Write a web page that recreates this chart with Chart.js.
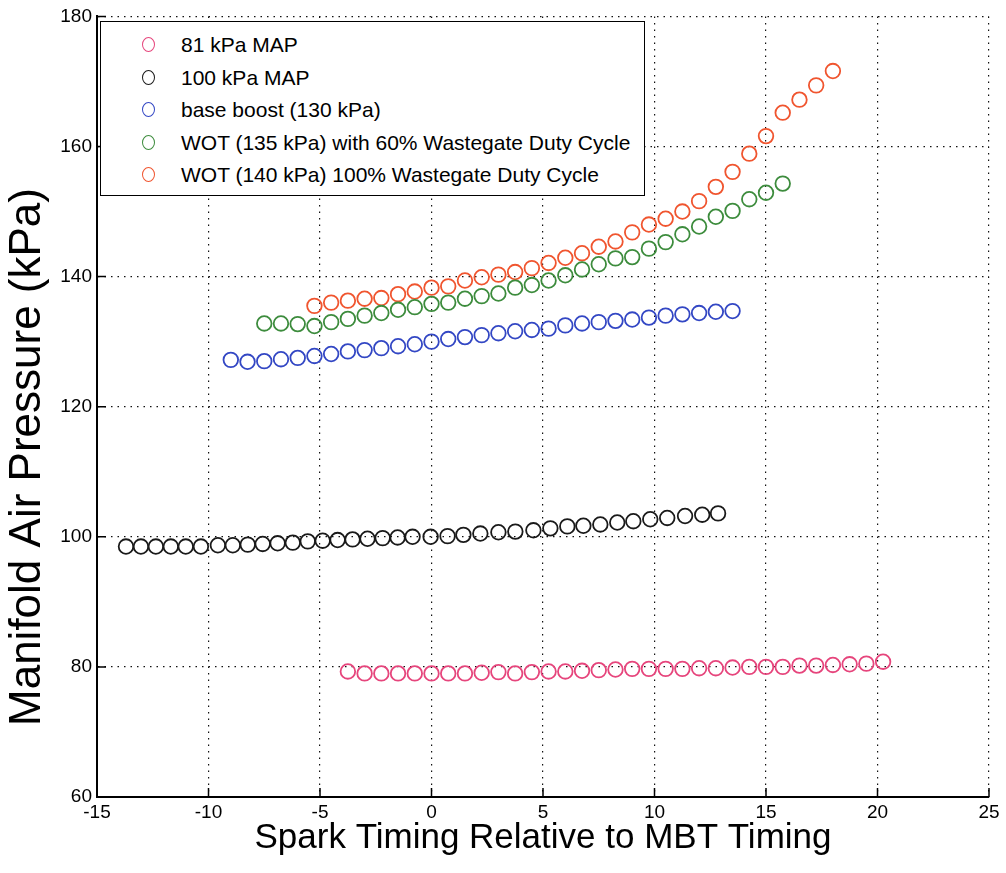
<!DOCTYPE html>
<html>
<head>
<meta charset="utf-8">
<script src="https://cdn.jsdelivr.net/npm/chart.js@4.4.1/dist/chart.umd.min.js"></script>
<style>
  html, body { margin: 0; padding: 0; background: #fff; }
  #wrap { position: relative; width: 1006px; height: 873px; }
  #legenda {
    position: absolute; left: 100px; top: 21px; width: 545px; height: 175px;
    box-sizing: border-box; border: 1.5px solid #000; background: #fff;
    font-family: "Liberation Sans", Arial, sans-serif; font-size: 21px; color: #000;
  }
  .item { position: absolute; left: 0; height: 30px; line-height: 30px; white-space: nowrap; }
  .bola {
    position: absolute; left: 41px; top: 7px; width: 11px; height: 13px;
    border: 1.8px solid #000; border-radius: 50%;
  }
  .texto { position: absolute; left: 80px; top: 0; }
</style>
</head>
<body>
<div id="wrap">
  <canvas id="grafico" width="1006" height="873"></canvas>
  <div id="legenda"></div>
</div>
<script>
// 81 kPa MAP
const xRosa = [-3.75, -3, -2.25, -1.5, -0.75, 0, 0.75, 1.5, 2.25, 3, 3.75, 4.5, 5.25, 6, 6.75, 7.5, 8.25,
  9, 9.75, 10.5, 11.25, 12, 12.75, 13.5, 14.25, 15, 15.75, 16.5, 17.25, 18, 18.75, 19.5, 20.25];
const yRosa = [79.3, 79.0, 79.0, 79.0, 79.0, 79.0, 79.0, 79.0, 79.1, 79.2, 79.0, 79.2, 79.3, 79.3, 79.4, 79.5, 79.6,
  79.7, 79.7, 79.7, 79.7, 79.8, 79.8, 79.9, 80.0, 80.0, 80.0, 80.2, 80.2, 80.3, 80.4, 80.5, 80.8];

// 100 kPa MAP
const xPreto = [-13.7, -13.03, -12.36, -11.69, -11.02, -10.34, -9.58, -8.91, -8.24, -7.57, -6.9, -6.22, -5.55,
  -4.88, -4.21, -3.54, -2.87, -2.19, -1.52, -0.85, -0.04, 0.72, 1.43, 2.19, 3.0, 3.76, 4.57, 5.33, 6.09,
  6.81, 7.57, 8.33, 9.05, 9.81, 10.57, 11.37, 12.14, 12.85];
const yPreto = [98.5, 98.5, 98.5, 98.5, 98.5, 98.5, 98.7, 98.7, 98.8, 98.9, 99.0, 99.1, 99.3,
  99.4, 99.5, 99.6, 99.7, 99.8, 99.9, 100.0, 100.0, 100.1, 100.3, 100.5, 100.7, 100.8, 101.0, 101.3, 101.6,
  101.7, 101.9, 102.2, 102.4, 102.7, 102.9, 103.2, 103.4, 103.6];

// base boost (130 kPa)
const xAzul = [-9, -8.25, -7.5, -6.75, -6, -5.25, -4.5, -3.75, -3, -2.25, -1.5, -0.75, 0, 0.75, 1.5, 2.25,
  3, 3.75, 4.5, 5.25, 6, 6.75, 7.5, 8.25, 9, 9.75, 10.5, 11.25, 12, 12.75, 13.5];
const yAzul = [127.2, 126.9, 127.0, 127.3, 127.5, 127.8, 128.1, 128.5, 128.7, 129.0, 129.3, 129.6, 130.0, 130.4, 130.7, 131.0,
  131.3, 131.6, 131.8, 132.0, 132.5, 132.8, 133.0, 133.2, 133.4, 133.7, 134.0, 134.2, 134.4, 134.6, 134.7];

// WOT (135 kPa) 60% wastegate
const xVerde = [-7.5, -6.75, -6, -5.25, -4.5, -3.75, -3, -2.25, -1.5, -0.75, 0, 0.75, 1.5, 2.25, 3, 3.75,
  4.5, 5.25, 6, 6.75, 7.5, 8.25, 9, 9.75, 10.5, 11.25, 12, 12.75, 13.5, 14.25, 15, 15.75];
const yVerde = [132.8, 132.8, 132.7, 132.4, 133.0, 133.5, 134.0, 134.4, 134.9, 135.3, 135.8, 136.0, 136.6, 137.0, 137.4, 138.3,
  138.7, 139.4, 140.2, 141.1, 141.9, 142.8, 143.0, 144.3, 145.3, 146.5, 147.7, 149.2, 150.1, 151.9, 152.9, 154.3];

// WOT (140 kPa) 100% wastegate
const xLaranja = [-5.25, -4.5, -3.75, -3, -2.25, -1.5, -0.75, 0, 0.75, 1.5, 2.25, 3, 3.75, 4.5, 5.25, 6,
  6.75, 7.5, 8.25, 9, 9.75, 10.5, 11.25, 12, 12.75, 13.5, 14.25, 15, 15.75, 16.5, 17.25, 18];
const yLaranja = [135.5, 136.0, 136.3, 136.6, 136.7, 137.3, 137.7, 138.3, 138.5, 139.4, 139.9, 140.3, 140.7, 141.3, 142.1, 142.9,
  143.6, 144.6, 145.4, 146.8, 148.0, 148.9, 150.0, 151.6, 153.8, 156.1, 158.9, 161.6, 165.2, 167.2, 169.4, 171.6];

const rotulos = ["81 kPa MAP", "100 kPa MAP", "base boost (130 kPa)",
  "WOT (135 kPa) with 60% Wastegate Duty Cycle", "WOT (140 kPa) 100% Wastegate Duty Cycle"];
const cores = ["#e6457c", "#1a1a1a", "#3347c4", "#3d8c3d", "#f0552f"];

const tituloX = "Spark Timing Relative to MBT Timing";
const tituloY = "Manifold Air Pressure (kPa)";
const fonte = "'Liberation Sans', Arial, sans-serif";

function pares(xs, ys) {
  let saida = [];
  for (let i = 0; i < xs.length; i++) {
    saida.push({ x: xs[i], y: ys[i] });
  }
  return saida;
}

function serie(i, xs, ys) {
  return {
    label: rotulos[i],
    data: pares(xs, ys),
    showLine: false,
    pointStyle: "circle",
    pointRadius: 7.3,
    pointHoverRadius: 7.3,
    pointBorderWidth: 1.8,
    borderColor: cores[i],
    backgroundColor: "rgba(0,0,0,0)",
  };
}

// inward tick marks + rotated y title
const marcas = {
  id: "marcas",
  afterDraw(chart) {
    const { ctx, chartArea, scales } = chart;
    ctx.save();
    ctx.strokeStyle = "#000";
    ctx.lineWidth = 1.5;
    ctx.beginPath();
    scales.x.ticks.forEach(function (t) {
      const px = scales.x.getPixelForValue(t.value);
      ctx.moveTo(px, chartArea.bottom);
      ctx.lineTo(px, chartArea.bottom - 9);
    });
    scales.y.ticks.forEach(function (t) {
      const py = scales.y.getPixelForValue(t.value);
      ctx.moveTo(chartArea.left, py);
      ctx.lineTo(chartArea.left + 9, py);
    });
    ctx.stroke();

    ctx.translate(28, 457);
    ctx.rotate(-Math.PI / 2);
    ctx.fillStyle = "#000";
    ctx.font = "44px " + fonte;
    ctx.textAlign = "center";
    ctx.textBaseline = "middle";
    ctx.fillText(tituloY, 0, 0);
    ctx.restore();
  },
};

const ctx = document.getElementById("grafico").getContext("2d");
const grafico = new Chart(ctx, {
  type: "scatter",
  data: {
    datasets: [
      serie(0, xRosa, yRosa),
      serie(1, xPreto, yPreto),
      serie(2, xAzul, yAzul),
      serie(3, xVerde, yVerde),
      serie(4, xLaranja, yLaranja),
    ],
  },
  options: {
    responsive: false,
    animation: false,
    devicePixelRatio: 1,
    layout: { padding: { top: 16, right: 17, left: 0, bottom: 0 } },
    plugins: { legend: { display: false }, tooltip: { enabled: false } },
    scales: {
      x: {
        type: "linear",
        min: -15,
        max: 25,
        ticks: { stepSize: 5, color: "#000", padding: 4, font: { family: fonte, size: 19 } },
        grid: { color: "#111", lineWidth: 1.2, drawTicks: false },
        border: { display: true, color: "#000", width: 2, dash: [1.5, 5] },
        title: {
          display: true,
          text: tituloX,
          color: "#000",
          font: { family: fonte, size: 35 },
          padding: { top: 0, bottom: 14 },
        },
        afterFit: function (s) { s.height = 76; },
      },
      y: {
        min: 60,
        max: 180,
        ticks: { stepSize: 20, color: "#000", padding: 5, font: { family: fonte, size: 19 } },
        grid: { color: "#111", lineWidth: 1.2, drawTicks: false },
        border: { display: true, color: "#000", width: 2, dash: [1.5, 5] },
        afterFit: function (s) { s.width = 97; },
      },
    },
  },
  plugins: [marcas],
});

// legend box inside the plot, built from the datasets
const legenda = document.getElementById("legenda");
grafico.data.datasets.forEach(function (d, i) {
  const item = document.createElement("div");
  item.className = "item";
  item.style.top = (8 + i * 32.5) + "px";
  const bola = document.createElement("span");
  bola.className = "bola";
  bola.style.borderColor = d.borderColor;
  const texto = document.createElement("span");
  texto.className = "texto";
  texto.textContent = d.label;
  item.appendChild(bola);
  item.appendChild(texto);
  legenda.appendChild(item);
});
</script>
</body>
</html>
